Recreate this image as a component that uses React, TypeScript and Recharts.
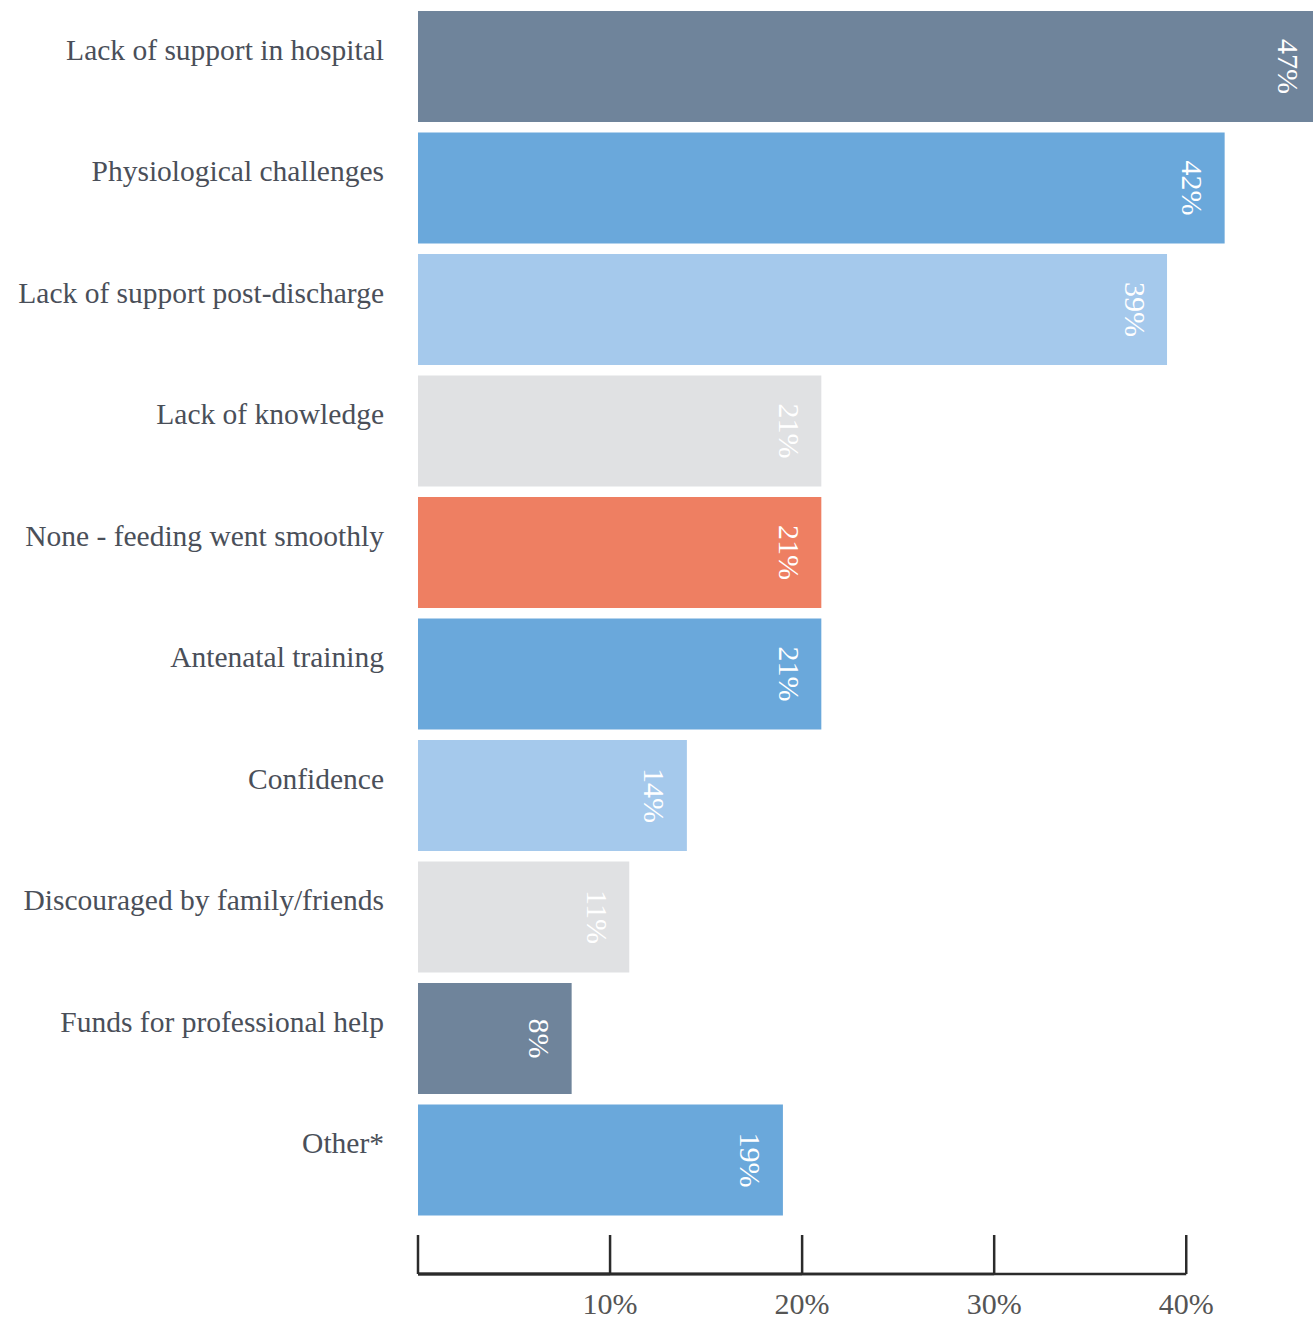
import React from "react";
import { BarChart, Bar, XAxis, YAxis, Cell, LabelList } from "recharts";

const categories = [
  "Lack of support in hospital",
  "Physiological challenges",
  "Lack of support post-discharge",
  "Lack of knowledge",
  "None - feeding went smoothly",
  "Antenatal training",
  "Confidence",
  "Discouraged by family/friends",
  "Funds for professional help",
  "Other*",
];
const percents = [47, 42, 39, 21, 21, 21, 14, 11, 8, 19];
const barColors = [
  "#6f849b",
  "#6aa8db",
  "#a5c9ec",
  "#e0e1e3",
  "#ee7f62",
  "#6aa8db",
  "#a5c9ec",
  "#e0e1e3",
  "#6f849b",
  "#6aa8db",
];
const xTicks = [0, 10, 20, 30, 40];

const data = categories.map((name, i) => ({ name, value: percents[i] }));

const WIDTH = 1313;
const HEIGHT = 1320;
const PLOT_LEFT = 418;
const SERIF = "'Liberation Serif', 'DejaVu Serif', serif";

const CategoryTick = (props: any) => {
  const { x, y, payload } = props;
  return (
    <text
      x={x}
      y={y}
      dy={-7}
      textAnchor="end"
      fontFamily={SERIF}
      fontSize={29.5}
      fill="#4a4f59"
    >
      {payload.value}
    </text>
  );
};

const PercentTick = (props: any) => {
  const { x, y, payload } = props;
  const v = payload.value;
  return (
    <g>
      <line x1={x} x2={x} y1={y + 14} y2={y + 53} stroke="#2b2b2b" strokeWidth={2.5} />
      {v > 0 && (
        <line x1={PLOT_LEFT} x2={x} y1={y + 53} y2={y + 53} stroke="#2b2b2b" strokeWidth={2.5} />
      )}
      {v > 0 && (
        <text
          x={x}
          y={y + 93}
          textAnchor="middle"
          fontFamily={SERIF}
          fontSize={30}
          fill="#555"
        >
          {v}%
        </text>
      )}
    </g>
  );
};

const ValueLabel = (props: any) => {
  const { x, y, width, height, value } = props;
  const cx = x + width - 32;
  const cy = y + height / 2;
  return (
    <text
      x={cx}
      y={cy}
      transform={`rotate(90, ${cx}, ${cy})`}
      textAnchor="middle"
      dominantBaseline="central"
      fontFamily={SERIF}
      fontSize={30}
      fill="#ffffff"
    >
      {value}%
    </text>
  );
};

export default function App() {
  return (
    <div style={{ position: "absolute", left: 0, top: 0, width: WIDTH, height: HEIGHT }}>
      <BarChart
        width={WIDTH}
        height={HEIGHT}
        data={data}
        layout="vertical"
        margin={{ top: 6, right: 0, bottom: 0, left: 0 }}
      >
        <XAxis
          type="number"
          domain={[0, 46.6]}
          allowDataOverflow
          ticks={xTicks}
          interval={0}
          axisLine={false}
          tickLine={false}
          tickSize={0}
          tickMargin={0}
          height={99}
          tick={<PercentTick />}
        />
        <YAxis
          type="category"
          dataKey="name"
          width={PLOT_LEFT}
          axisLine={false}
          tickLine={false}
          tickSize={0}
          tickMargin={34}
          interval={0}
          tick={<CategoryTick />}
        />
        <Bar dataKey="value" barSize={111} isAnimationActive={false}>
          {data.map((d, i) => (
            <Cell key={d.name} fill={barColors[i]} />
          ))}
          <LabelList dataKey="value" content={<ValueLabel />} />
        </Bar>
      </BarChart>
    </div>
  );
}
